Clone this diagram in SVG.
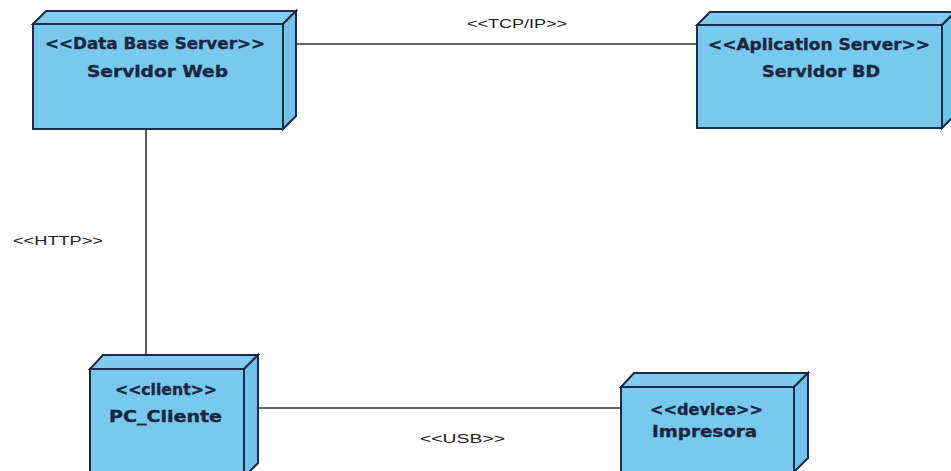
<svg xmlns="http://www.w3.org/2000/svg" width="951" height="471" viewBox="0 0 951 471">
  <style>
    .face { fill: #79C8EE; stroke: #1B2A48; stroke-width: 2; stroke-linejoin: miter; }
    .top { fill: #80CCF0; }
    .side { fill: #72C2EA; }
    .conn { stroke: #333333; stroke-width: 1.6; fill: none; }
    .nt { font-family: "DejaVu Sans", "Liberation Sans", sans-serif; font-weight: bold; font-size: 15px; fill: #1B2740; stroke: #1B2740; stroke-width: 0.35; }
    .lbl { font-family: "Liberation Sans", Arial, sans-serif; font-size: 12.5px; fill: #222222; }
  </style>
  <rect width="951" height="471" fill="#FFFFFF"/>

  <!-- communication paths -->
  <g id="connectors">
    <line class="conn" x1="283" y1="44" x2="697" y2="44"/>
    <line class="conn" x1="146" y1="129" x2="146" y2="355"/>
    <line class="conn" x1="258" y1="408" x2="621" y2="408"/>
    <text class="lbl" x="467" y="28" textLength="100" lengthAdjust="spacingAndGlyphs">&lt;&lt;TCP/IP&gt;&gt;</text>
    <text class="lbl" x="13" y="245" textLength="90" lengthAdjust="spacingAndGlyphs">&lt;&lt;HTTP&gt;&gt;</text>
    <text class="lbl" x="420" y="443" textLength="85" lengthAdjust="spacingAndGlyphs">&lt;&lt;USB&gt;&gt;</text>
  </g>

  <!-- node: Servidor Web -->
  <g id="servidor-web">
    <polygon class="face top" points="33,24 46,11 296,11 283,24"/>
    <polygon class="face side" points="283,24 296,11 296,116 283,129"/>
    <rect class="face" x="33" y="24" width="250" height="105"/>
    <text class="nt" x="45" y="49" textLength="220" lengthAdjust="spacingAndGlyphs">&lt;&lt;Data Base Server&gt;&gt;</text>
    <text class="nt" x="87" y="77" textLength="141" lengthAdjust="spacingAndGlyphs">Servidor Web</text>
  </g>

  <!-- node: Servidor BD -->
  <g id="servidor-bd">
    <polygon class="face top" points="697,25 710,12 955,12 942,25"/>
    <polygon class="face side" points="942,25 955,12 955,115 942,128"/>
    <rect class="face" x="697" y="25" width="245" height="103"/>
    <text class="nt" x="708" y="50" textLength="222" lengthAdjust="spacingAndGlyphs">&lt;&lt;Aplication Server&gt;&gt;</text>
    <text class="nt" x="762" y="77" textLength="118" lengthAdjust="spacingAndGlyphs">Servidor BD</text>
  </g>

  <!-- node: PC_Cliente -->
  <g id="pc-cliente">
    <polygon class="face top" points="90,369 103,355 258,355 244,369"/>
    <polygon class="face side" points="244,369 258,355 258,463 244,477"/>
    <rect class="face" x="90" y="369" width="154" height="108"/>
    <text class="nt" x="115" y="395" textLength="102" lengthAdjust="spacingAndGlyphs">&lt;&lt;client&gt;&gt;</text>
    <text class="nt" x="109" y="422" textLength="113" lengthAdjust="spacingAndGlyphs">PC_Cliente</text>
  </g>

  <!-- node: Impresora -->
  <g id="impresora">
    <polygon class="face top" points="621,387 634,373 808,373 794,387"/>
    <polygon class="face side" points="794,387 808,373 808,458 794,472"/>
    <rect class="face" x="621" y="387" width="173" height="85"/>
    <text class="nt" x="650" y="415" textLength="113" lengthAdjust="spacingAndGlyphs">&lt;&lt;device&gt;&gt;</text>
    <text class="nt" x="652" y="437" textLength="105" lengthAdjust="spacingAndGlyphs">Impresora</text>
  </g>
</svg>
